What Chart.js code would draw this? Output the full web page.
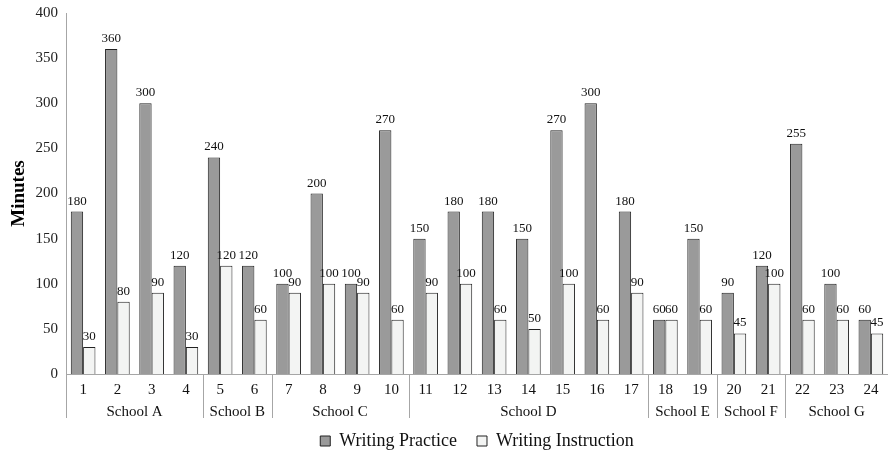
<!DOCTYPE html>
<html>
<head>
<meta charset="utf-8">
<script src="https://cdn.jsdelivr.net/npm/chart.js@4/dist/chart.umd.min.js"></script>
<style>
  html, body { margin: 0; padding: 0; background: #fff; overflow: hidden; }
  #wrap { width: 888px; height: 454px; }
</style>
</head>
<body>
<div id="wrap"><canvas id="c" width="888" height="454"></canvas></div>
<script>
// Writing minutes per teacher, grouped by school
const teachers = ['1','2','3','4','5','6','7','8','9','10','11','12','13','14','15','16','17','18','19','20','21','22','23','24'];
const practice = [180,360,300,120,240,120,100,200,100,270,150,180,180,150,270,300,180,60,150,90,120,255,100,60];
const instruction = [30,80,90,30,120,60,90,100,90,60,90,100,60,50,100,60,90,60,60,45,100,60,60,45];
const schools = ['School A','School B','School C','School D','School E','School F','School G'];
const schoolSizes = [4,2,4,7,2,2,3];
const yTicks = [0,50,100,150,200,250,300,350,400];

const SERIF = '"Liberation Serif", "Times New Roman", serif';
const AXIS_GREY = '#a6a6a6';

// Value labels above every bar
const valueLabels = {
  id: 'valueLabels',
  afterDatasetsDraw(chart) {
    const ctx = chart.ctx;
    ctx.save();
    ctx.font = '13px ' + SERIF;
    ctx.fillStyle = '#111';
    ctx.textAlign = 'center';
    ctx.textBaseline = 'alphabetic';
    chart.data.datasets.forEach((ds, di) => {
      const meta = chart.getDatasetMeta(di);
      meta.data.forEach((bar, i) => {
        ctx.fillText(String(ds.data[i]), bar.x, bar.y - 7);
      });
    });
    ctx.restore();
  }
};

// School group labels and separators under the teacher numbers
const schoolGroups = {
  id: 'schoolGroups',
  afterDraw(chart) {
    const x = chart.scales.x;
    const ctx = chart.ctx;
    const bottom = chart.chartArea.bottom;
    const half = (x.getPixelForValue(1) - x.getPixelForValue(0)) / 2;
    ctx.save();
    ctx.strokeStyle = AXIS_GREY;
    ctx.lineWidth = 1;
    ctx.font = '15px ' + SERIF;
    ctx.fillStyle = '#111';
    ctx.textAlign = 'center';
    ctx.textBaseline = 'middle';
    let start = 0;
    const drawSep = (px) => {
      const xx = Math.round(px) + 0.5;
      ctx.beginPath();
      ctx.moveTo(xx, bottom);
      ctx.lineTo(xx, bottom + 44);
      ctx.stroke();
    };
    drawSep(x.getPixelForValue(0) - half);
    schoolSizes.forEach((n, g) => {
      const left = x.getPixelForValue(start) - half;
      const right = x.getPixelForValue(start + n - 1) + half;
      if (g < schoolSizes.length - 1) drawSep(right);
      ctx.fillText(schools[g], (left + right) / 2, bottom + 38);
      start += n;
    });
    ctx.restore();
  }
};

// Keep the legend compact so it sits just below the school labels
const compactLegend = {
  id: 'compactLegend',
  beforeLayout(chart) {
    const lg = chart.legend;
    if (lg && !lg._compact) {
      const fit = lg.fit;
      lg.fit = function () { fit.call(this); this.height = 42; };
      lg._compact = true;
    }
  }
};

new Chart(document.getElementById('c'), {
  type: 'bar',
  data: {
    labels: teachers,
    datasets: [
      {
        label: 'Writing Practice',
        data: practice,
        backgroundColor: '#9a9a9a',
        borderColor: '#222',
        borderWidth: 1,
        categoryPercentage: 0.72,
        barPercentage: 1.0
      },
      {
        label: 'Writing Instruction',
        data: instruction,
        backgroundColor: '#f3f4f3',
        borderColor: '#222',
        borderWidth: 1,
        categoryPercentage: 0.72,
        barPercentage: 1.0
      }
    ]
  },
  options: {
    responsive: false,
    animation: false,
    layout: { padding: { top: 13, right: 0, left: 0, bottom: 0 } },
    plugins: {
      legend: {
        position: 'bottom',
        fullSize: false,
        labels: {
          boxWidth: 10,
          boxHeight: 10,
          padding: 20,
          color: '#111',
          font: { family: SERIF, size: 18 }
        }
      },
      tooltip: { enabled: false }
    },
    scales: {
      x: {
        grid: { display: false, drawTicks: false },
        border: { color: AXIS_GREY },
        ticks: { color: '#111', padding: 7, font: { family: SERIF, size: 15 } },
        afterFit(s) { s.height = 38; s.paddingLeft = 0; s.paddingRight = 0; }
      },
      y: {
        min: 0,
        max: 400,
        afterBuildTicks(s) { s.ticks = yTicks.map(v => ({ value: v })); },
        grid: { display: false, drawTicks: false },
        border: { color: AXIS_GREY },
        ticks: { color: '#222', padding: 8, font: { family: SERIF, size: 15 } },
        title: {
          display: true,
          text: 'Minutes',
          color: '#000',
          padding: { top: 8, bottom: 0 },
          font: { family: SERIF, size: 19, weight: 'bold' }
        },
        afterFit(s) { s.width = 66; s.paddingTop = 0; s.paddingBottom = 0; }
      }
    }
  },
  plugins: [compactLegend, valueLabels, schoolGroups]
});
</script>
</body>
</html>
